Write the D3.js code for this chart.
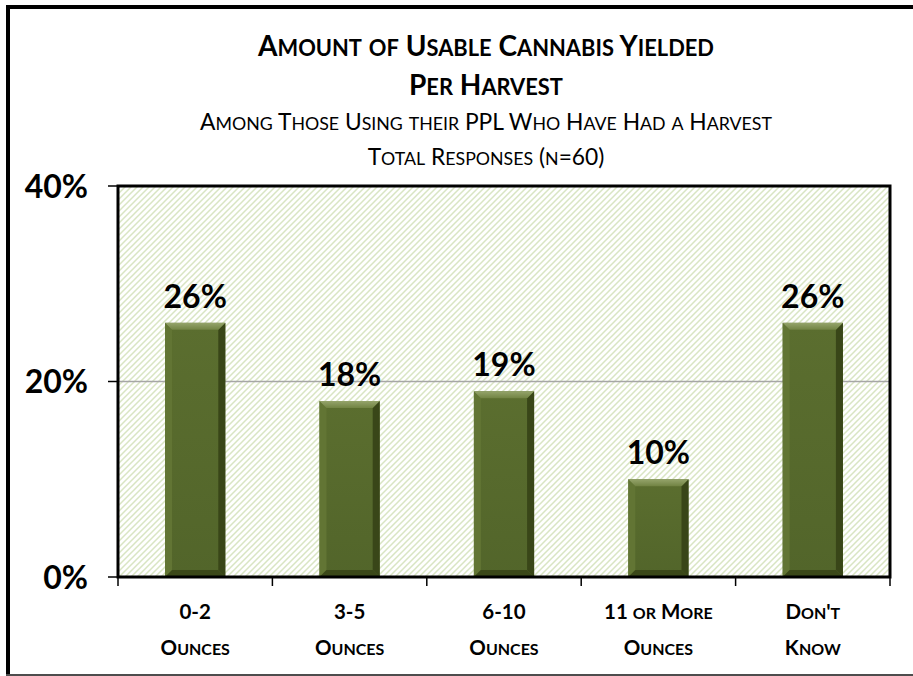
<!DOCTYPE html>
<html>
<head>
<meta charset="utf-8">
<script src="https://cdn.jsdelivr.net/npm/d3@7"></script>
<style>
  html, body { margin: 0; padding: 0; background: #fff; overflow: hidden; }
  svg { display: block; font-family: Lato, "Open Sans", sans-serif; }
</style>
</head>
<body>
<svg id="chart" width="913" height="676"></svg>
<script>
// ---- data ----
const categories = [["0-2", "Ounces"], ["3-5", "Ounces"], ["6-10", "Ounces"], ["11 or More", "Ounces"], ["Don't", "Know"]];
const values = [26, 18, 19, 10, 26];
const yTicks = [0, 20, 40];
const titleLines = ["Amount of Usable Cannabis Yielded", "Per Harvest"];
const subtitleLines = ["Among Those Using their PPL Who Have Had a Harvest", "Total Responses (n=60)"];

// ---- layout ----
const plot = { left: 118, right: 890, top: 186, bottom: 577 };
const SC = 0.78; // small-caps ratio
const svg = d3.select("#chart");
const defs = svg.append("defs");

// manual small caps writer
function smallCaps(textSel, str, size) {
  const runs = [];
  for (const ch of str) {
    const low = ch !== ch.toUpperCase();
    if (runs.length && runs[runs.length - 1].low === low) runs[runs.length - 1].s += ch;
    else runs.push({ low, s: ch });
  }
  textSel.selectAll("tspan.sc").data(runs).join("tspan").attr("class", "sc")
    .attr("font-size", d => d.low ? size * SC : size)
    .text(d => d.s.toUpperCase());
}
function fitSize(textSel, str, size, target) {
  smallCaps(textSel, str, size);
  const w = textSel.node().getComputedTextLength();
  const s2 = size * target / w;
  smallCaps(textSel, str, s2);
  return s2;
}

// hatch pattern
const pat = defs.append("pattern").attr("id", "hatch")
  .attr("patternUnits", "userSpaceOnUse").attr("width", 6).attr("height", 6);
pat.append("rect").attr("width", 6).attr("height", 6).attr("fill", "#ffffff");
pat.append("path").attr("d", "M-1,1 L1,-1 M0,6 L6,0 M5,7 L7,5")
  .attr("stroke", "#d9e5c3").attr("stroke-width", 1.5);

// gradients
const g1 = defs.append("linearGradient").attr("id", "face").attr("x1", 0).attr("x2", 0).attr("y1", 0).attr("y2", 1);
g1.append("stop").attr("offset", "0%").attr("stop-color", "#5b6e2f");
g1.append("stop").attr("offset", "100%").attr("stop-color", "#52652a");
const gTop = defs.append("linearGradient").attr("id", "topBevel").attr("x1", 0).attr("x2", 0).attr("y1", 0).attr("y2", 1);
gTop.append("stop").attr("offset", "0%").attr("stop-color", "#95a46b");
gTop.append("stop").attr("offset", "100%").attr("stop-color", "#718343");

// outer frame
const frame = svg.append("g");
frame.append("line").attr("x1", 6).attr("x2", 913).attr("y1", 7).attr("y2", 7).attr("stroke", "#000").attr("stroke-width", 4);
frame.append("line").attr("x1", 8).attr("x2", 8).attr("y1", 5).attr("y2", 676).attr("stroke", "#000").attr("stroke-width", 4);
frame.append("line").attr("x1", 6).attr("x2", 913).attr("y1", 675).attr("y2", 675).attr("stroke", "#4d4d4d").attr("stroke-width", 2);

// scales
const x = d3.scaleBand().domain(d3.range(categories.length)).range([plot.left, plot.right]).paddingInner(0.61).paddingOuter(0.305);
const y = d3.scaleLinear().domain([0, 40]).range([plot.bottom, plot.top]);
const xBand = d3.scaleBand().domain(d3.range(categories.length)).range([plot.left, plot.right]);

// plot background
svg.append("rect").attr("x", plot.left).attr("y", plot.top)
  .attr("width", plot.right - plot.left).attr("height", plot.bottom - plot.top)
  .attr("fill", "url(#hatch)");

// gridline
svg.append("g").selectAll("line").data(yTicks.filter(d => d > 0 && d < 40)).join("line")
  .attr("x1", plot.left).attr("x2", plot.right)
  .attr("y1", d => y(d)).attr("y2", d => y(d))
  .attr("stroke", "#a6a6a6").attr("stroke-width", 1.5);

// bars with bevel
const b = 7;
const bars = svg.append("g").selectAll("g").data(values).join("g");
bars.each(function(v, i) {
  const g = d3.select(this);
  const x0 = x(i), x1 = x(i) + x.bandwidth(), y0 = y(v), y1 = y(0);
  g.append("rect").attr("x", x0).attr("y", y0).attr("width", x1 - x0).attr("height", y1 - y0).attr("fill", "url(#face)");
  const poly = (pts, fill) => g.append("polygon").attr("points", pts.map(p => p.join(",")).join(" ")).attr("fill", fill);
  poly([[x0, y0], [x0 + b, y0 + b], [x0 + b, y1 - b], [x0, y1]], "#627534");
  poly([[x1, y0], [x1 - b, y0 + b], [x1 - b, y1 - b], [x1, y1]], "#394618");
  poly([[x0, y1], [x0 + b, y1 - b], [x1 - b, y1 - b], [x1, y1]], "#3b4819");
  poly([[x0, y0], [x1, y0], [x1 - b, y0 + b], [x0 + b, y0 + b]], "url(#topBevel)");
  g.append("text").attr("x", (x0 + x1) / 2).attr("y", y0 - 15)
    .attr("text-anchor", "middle").attr("font-weight", 700).attr("font-size", 32)
    .attr("fill", "#000").text(v + "%");
});

// plot border
svg.append("rect").attr("x", plot.left).attr("y", plot.top)
  .attr("width", plot.right - plot.left).attr("height", plot.bottom - plot.top)
  .attr("fill", "none").attr("stroke", "#000").attr("stroke-width", 3);

// y axis ticks + labels
const yAxis = svg.append("g");
yAxis.selectAll("line").data(yTicks).join("line")
  .attr("x1", plot.left - 10).attr("x2", plot.left)
  .attr("y1", d => y(d)).attr("y2", d => y(d))
  .attr("stroke", "#000").attr("stroke-width", 1.5);
yAxis.selectAll("text").data(yTicks).join("text")
  .attr("x", 88).attr("y", d => y(d)).attr("dy", "0.36em")
  .attr("text-anchor", "end").attr("font-weight", 700).attr("font-size", 32)
  .text(d => d + "%");

// x axis ticks
const bounds = d3.range(categories.length + 1).map(i => i < categories.length ? xBand(i) : plot.right);
svg.append("g").selectAll("line").data(bounds).join("line")
  .attr("x1", d => d).attr("x2", d => d)
  .attr("y1", plot.bottom).attr("y2", plot.bottom + 9)
  .attr("stroke", "#000").attr("stroke-width", 1.5);

// category labels
const catG = svg.append("g");
categories.forEach((c, i) => {
  const cxi = xBand(i) + xBand.bandwidth() / 2;
  [0, 1].forEach(k => {
    const t = catG.append("text").attr("x", cxi).attr("y", [619, 655][k])
      .attr("text-anchor", "middle").attr("font-weight", 700);
    smallCaps(t, c[k], 20.5);
  });
});

// titles
const cx = 486;
const t1 = svg.append("text").attr("x", cx).attr("y", 56).attr("text-anchor", "middle").attr("font-weight", 700);
const titleSize = fitSize(t1, titleLines[0], 20, 456);
const t2 = svg.append("text").attr("x", cx).attr("y", 95).attr("text-anchor", "middle").attr("font-weight", 700);
smallCaps(t2, titleLines[1], titleSize);
const s1 = svg.append("text").attr("x", cx).attr("y", 130).attr("text-anchor", "middle").attr("font-weight", 400);
const subSize = fitSize(s1, subtitleLines[0], 18, 572);
const s2 = svg.append("text").attr("x", cx).attr("y", 165).attr("text-anchor", "middle").attr("font-weight", 400);
smallCaps(s2, subtitleLines[1], subSize);
</script>
</body>
</html>
